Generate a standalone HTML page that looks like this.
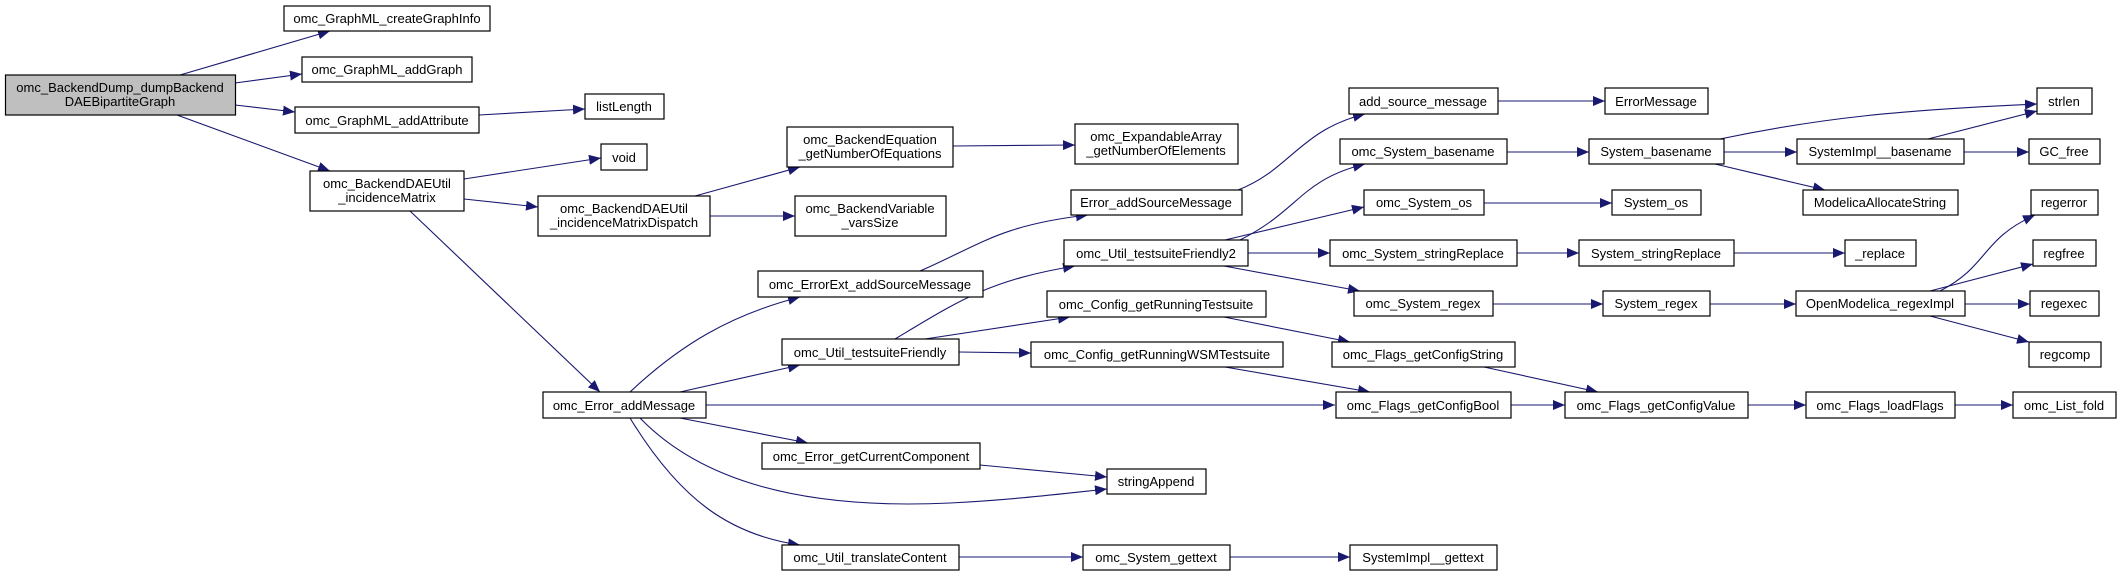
<!DOCTYPE html>
<html><head><meta charset="utf-8"><style>
html,body{margin:0;padding:0;background:#fff;width:2121px;height:576px;overflow:hidden}
svg text{font-family:"Liberation Sans",Arial,sans-serif;font-size:13px;fill:#000}
</style></head><body>
<svg width="2121" height="576" viewBox="0 0 2121 576" xmlns="http://www.w3.org/2000/svg">
<defs><marker id="a" viewBox="0 0 12 10" refX="12" refY="5" markerWidth="12" markerHeight="10" markerUnits="userSpaceOnUse" orient="auto"><path d="M0,0 L12,5 L0,10 z" fill="#191970"/></marker></defs>
<g fill="none" stroke="#191970" stroke-width="1.1" marker-end="url(#a)">
<path d="M180,75 L330,31"/>
<path d="M235,83 L302,74"/>
<path d="M235,105 L295,112"/>
<path d="M177,115 L330,171"/>
<path d="M479,115 L585,109"/>
<path d="M464,179 L601,158"/>
<path d="M464,199 L538,207"/>
<path d="M410,211 L600,392"/>
<path d="M695,196 L800,167"/>
<path d="M710,216 L795,216"/>
<path d="M953,146 L1075,145"/>
<path d="M630,392 C680,345 730,315 800,297"/>
<path d="M680,392 L800,365"/>
<path d="M706,405 L1335,405"/>
<path d="M680,418 L808,443"/>
<path d="M640,418 C700,480 800,510 950,503 C1010,500 1060,494 1107,489"/>
<path d="M630,418 C680,500 730,535 800,545"/>
<path d="M920,271 C980,245 1000,225 1088,215"/>
<path d="M1238,190 C1290,170 1300,130 1365,114"/>
<path d="M1498,101 L1605,101"/>
<path d="M895,339 C960,300 990,280 1075,266"/>
<path d="M925,339 L1070,317"/>
<path d="M959,352 L1031,353"/>
<path d="M1224,317 L1350,342"/>
<path d="M1225,367 L1370,392"/>
<path d="M1240,240 C1300,210 1300,180 1365,164"/>
<path d="M1225,240 L1364,207"/>
<path d="M1248,253 L1330,253"/>
<path d="M1224,266 L1360,291"/>
<path d="M1507,152 L1589,152"/>
<path d="M1720,139 C1820,118 1900,110 2037,104"/>
<path d="M1724,152 L1797,152"/>
<path d="M1715,164 L1825,190"/>
<path d="M1928,139 L2037,111"/>
<path d="M1964,152 L2029,152"/>
<path d="M1484,203 L1612,203"/>
<path d="M1517,253 L1579,253"/>
<path d="M1734,253 L1845,253"/>
<path d="M1493,304 L1603,304"/>
<path d="M1710,304 L1796,304"/>
<path d="M1940,291 C1990,265 1980,240 2035,215"/>
<path d="M1930,291 L2033,264"/>
<path d="M1965,304 L2030,304"/>
<path d="M1930,316 L2029,342"/>
<path d="M1484,367 L1598,392"/>
<path d="M1511,405 L1565,405"/>
<path d="M1748,405 L1806,405"/>
<path d="M1955,405 L2013,405"/>
<path d="M980,465 L1107,477"/>
<path d="M959,557 L1083,557"/>
<path d="M1230,557 L1350,557"/>
</g>
<g stroke="#000" stroke-width="1.2" fill="#fff">
<rect x="5.5" y="75" width="230" height="40" fill="#bfbfbf"/>
<rect x="284" y="6" width="206" height="25"/>
<rect x="302" y="57" width="170" height="25"/>
<rect x="295" y="107" width="184" height="26"/>
<rect x="585" y="94" width="79" height="25"/>
<rect x="310" y="171" width="154" height="40"/>
<rect x="601" y="144" width="46" height="26"/>
<rect x="538" y="196" width="172" height="40"/>
<rect x="787" y="127" width="166" height="40"/>
<rect x="1075" y="124" width="163" height="40"/>
<rect x="795" y="196" width="151" height="40"/>
<rect x="1349" y="88" width="149" height="26"/>
<rect x="1605" y="88" width="103" height="26"/>
<rect x="2037" y="88" width="55" height="26"/>
<rect x="1340" y="139" width="167" height="25"/>
<rect x="1589" y="139" width="135" height="25"/>
<rect x="1797" y="139" width="167" height="25"/>
<rect x="2029" y="139" width="71" height="25"/>
<rect x="1071" y="190" width="171" height="25"/>
<rect x="1364" y="190" width="120" height="25"/>
<rect x="1612" y="190" width="89" height="25"/>
<rect x="1803" y="190" width="155" height="25"/>
<rect x="2031" y="190" width="67" height="25"/>
<rect x="1064" y="240" width="184" height="26"/>
<rect x="1330" y="240" width="187" height="26"/>
<rect x="1579" y="240" width="155" height="26"/>
<rect x="1845" y="240" width="71" height="26"/>
<rect x="2033" y="240" width="63" height="26"/>
<rect x="758" y="271" width="225" height="26"/>
<rect x="1047" y="291" width="219" height="26"/>
<rect x="1354" y="291" width="139" height="25"/>
<rect x="1603" y="291" width="107" height="25"/>
<rect x="1796" y="291" width="169" height="25"/>
<rect x="2030" y="291" width="69" height="25"/>
<rect x="782" y="339" width="177" height="26"/>
<rect x="1031" y="342" width="252" height="25"/>
<rect x="1332" y="342" width="183" height="25"/>
<rect x="2029" y="342" width="72" height="25"/>
<rect x="543" y="392" width="163" height="26"/>
<rect x="1336" y="392" width="175" height="26"/>
<rect x="1565" y="392" width="183" height="26"/>
<rect x="1806" y="392" width="149" height="26"/>
<rect x="2013" y="392" width="103" height="26"/>
<rect x="762" y="443" width="218" height="26"/>
<rect x="1107" y="469" width="99" height="25"/>
<rect x="782" y="545" width="177" height="25"/>
<rect x="1083" y="545" width="147" height="25"/>
<rect x="1350" y="545" width="147" height="25"/>
</g>
<g text-anchor="middle">
<text x="120" y="92">omc_BackendDump_dumpBackend</text><text x="120" y="106">DAEBipartiteGraph</text>
<text x="387" y="23">omc_GraphML_createGraphInfo</text>
<text x="387" y="74">omc_GraphML_addGraph</text>
<text x="387" y="125">omc_GraphML_addAttribute</text>
<text x="624" y="111">listLength</text>
<text x="387" y="188">omc_BackendDAEUtil</text><text x="387" y="202">_incidenceMatrix</text>
<text x="624" y="162">void</text>
<text x="624" y="213">omc_BackendDAEUtil</text><text x="624" y="227">_incidenceMatrixDispatch</text>
<text x="870" y="144">omc_BackendEquation</text><text x="870" y="158">_getNumberOfEquations</text>
<text x="1156" y="141">omc_ExpandableArray</text><text x="1156" y="155">_getNumberOfElements</text>
<text x="870" y="213">omc_BackendVariable</text><text x="870" y="227">_varsSize</text>
<text x="1423" y="106">add_source_message</text>
<text x="1656" y="106">ErrorMessage</text>
<text x="2064" y="106">strlen</text>
<text x="1423" y="156">omc_System_basename</text>
<text x="1656" y="156">System_basename</text>
<text x="1880" y="156">SystemImpl__basename</text>
<text x="2064" y="156">GC_free</text>
<text x="1156" y="207">Error_addSourceMessage</text>
<text x="1424" y="207">omc_System_os</text>
<text x="1656" y="207">System_os</text>
<text x="1880" y="207">ModelicaAllocateString</text>
<text x="2064" y="207">regerror</text>
<text x="1156" y="258">omc_Util_testsuiteFriendly2</text>
<text x="1423" y="258">omc_System_stringReplace</text>
<text x="1656" y="258">System_stringReplace</text>
<text x="1880" y="258">_replace</text>
<text x="2064" y="258">regfree</text>
<text x="870" y="289">omc_ErrorExt_addSourceMessage</text>
<text x="1156" y="309">omc_Config_getRunningTestsuite</text>
<text x="1423" y="308">omc_System_regex</text>
<text x="1656" y="308">System_regex</text>
<text x="1880" y="308">OpenModelica_regexImpl</text>
<text x="2064" y="308">regexec</text>
<text x="870" y="357">omc_Util_testsuiteFriendly</text>
<text x="1157" y="359">omc_Config_getRunningWSMTestsuite</text>
<text x="1423" y="359">omc_Flags_getConfigString</text>
<text x="2065" y="359">regcomp</text>
<text x="624" y="410">omc_Error_addMessage</text>
<text x="1423" y="410">omc_Flags_getConfigBool</text>
<text x="1656" y="410">omc_Flags_getConfigValue</text>
<text x="1880" y="410">omc_Flags_loadFlags</text>
<text x="2064" y="410">omc_List_fold</text>
<text x="871" y="461">omc_Error_getCurrentComponent</text>
<text x="1156" y="486">stringAppend</text>
<text x="870" y="562">omc_Util_translateContent</text>
<text x="1156" y="562">omc_System_gettext</text>
<text x="1423" y="562">SystemImpl__gettext</text>
</g>
</svg>
</body></html>
